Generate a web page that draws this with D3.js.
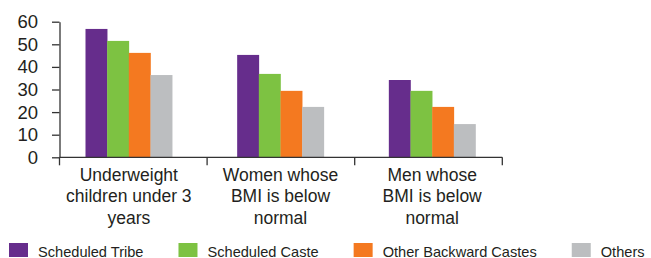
<!DOCTYPE html>
<html>
<head>
<meta charset="utf-8">
<script src="https://cdn.jsdelivr.net/npm/d3@7"></script>
<style>
  body { margin: 0; background: #fff; }
  text { font-family: "Liberation Sans", Arial, sans-serif; fill: #231f20; }
</style>
</head>
<body>
<div id="wrapper"></div>
<script>
// categories (each label split into lines)
const categories = ["Underweight children under 3 years", "Women whose BMI is below normal", "Men whose BMI is below normal"];
const categoryLines = [
    ["Underweight", "children under 3", "years"],
    ["Women whose", "BMI is below", "normal"],
    ["Men whose", "BMI is below", "normal"]
];
const seriesNames = ["Scheduled Tribe", "Scheduled Caste", "Other Backward Castes", "Others"];
const seriesColors = ["#662d8c", "#7dc242", "#f47920", "#bcbec0"];
// values per series, in category order
const scheduledTribe = [56.8, 45.3, 34.2];
const scheduledCaste = [51.5, 36.9, 29.4];
const otherBackward = [46.2, 29.4, 22.3];
const others = [36.4, 22.3, 14.7];
const yTicks = [0, 10, 20, 30, 40, 50, 60];

const seriesValues = [scheduledTribe, scheduledCaste, otherBackward, others];

const dimension = { width: 651, height: 258 };

const svg = d3.select("#wrapper").append("svg")
    .attr("width", dimension.width)
    .attr("height", dimension.height);

//scales
const yScaler = d3.scaleLinear().domain([0, 60]).range([157.3, 21.7]);

// groups of bars
const x0 = d3.scaleBand().domain(categories).range([53, 508]).paddingInner(0);
const x1 = d3.scaleBand().domain(seriesNames).range([0, x0.bandwidth()]).paddingInner(0).paddingOuter(1.5);
// category tick marks on the axis
const xTick = d3.scaleBand().domain(categories).range([59.5, 502.3]);

//bars
const groups = svg.append("g").selectAll("g")
    .data(categories)
    .join("g")
    .attr("transform", d => `translate(${x0(d)},0)`);

groups.selectAll("rect")
    .data((c, i) => seriesNames.map((s, j) => ({ s: s, v: seriesValues[j][i], color: seriesColors[j] })))
    .join("rect")
    .attr("x", d => x1(d.s))
    .attr("width", x1.bandwidth() + 0.3)
    .attr("y", d => yScaler(d.v))
    .attr("height", d => yScaler(0) - yScaler(d.v))
    .attr("fill", d => d.color);

//y axis
const yAxis = svg.append("g")
    .attr("transform", "translate(59.5,0)")
    .call(d3.axisLeft(yScaler).tickValues(yTicks).tickSize(7.5).tickPadding(14).tickSizeOuter(0));
yAxis.select(".domain").attr("stroke", "#333").attr("stroke-width", 1.3);
yAxis.selectAll(".tick line").attr("stroke", "#333").attr("stroke-width", 1.3);
yAxis.selectAll(".tick text")
    .attr("font-size", 18.5)
    .attr("font-family", "Liberation Sans, Arial, sans-serif")
    .attr("fill", "#231f20");

//x axis line and ticks
const xAxis = svg.append("g");
xAxis.append("line")
    .attr("x1", 59.5).attr("x2", xTick.range()[1])
    .attr("y1", yScaler(0)).attr("y2", yScaler(0))
    .attr("stroke", "#333").attr("stroke-width", 1.3);
const tickPositions = categories.map(c => xTick(c)).concat([xTick.range()[1]]);
xAxis.selectAll(".xt")
    .data(tickPositions)
    .join("line")
    .attr("class", "xt")
    .attr("x1", d => d).attr("x2", d => d)
    .attr("y1", yScaler(0)).attr("y2", yScaler(0) + 8)
    .attr("stroke", "#333").attr("stroke-width", 1.3);

//category labels
const labels = svg.append("g").selectAll("text")
    .data(categories)
    .join("text")
    .attr("text-anchor", "middle")
    .attr("font-size", 17.5)
    .attr("x", d => x0(d) + x0.bandwidth() / 2);
labels.selectAll("tspan")
    .data((d, i) => categoryLines[i])
    .join("tspan")
    .attr("x", function() { return this.parentNode.getAttribute("x"); })
    .attr("y", (d, i) => 180.7 + i * 21.5)
    .text(d => d);

//legend
const legend = svg.append("g");
let lx = 9;
seriesNames.forEach((name, i) => {
    legend.append("rect")
        .attr("x", lx).attr("y", 243)
        .attr("width", 19).attr("height", 14)
        .attr("fill", seriesColors[i]);
    const t = legend.append("text")
        .attr("x", lx + 29).attr("y", 256.5)
        .attr("font-size", 14.6)
        .text(name);
    lx = lx + 29 + t.node().getComputedTextLength() + 35;
});
</script>
</body>
</html>
